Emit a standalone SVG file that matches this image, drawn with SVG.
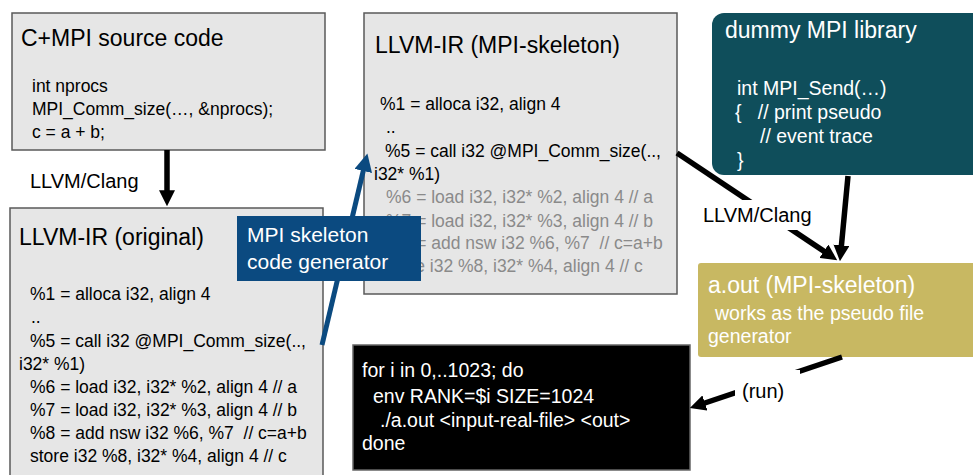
<svg xmlns="http://www.w3.org/2000/svg" width="973" height="475" viewBox="0 0 973 475">
<style>
text{font-family:"Liberation Sans",Arial,sans-serif;white-space:pre}
.box{fill:#e6e6e6;stroke:#595959;stroke-width:1.5}
.title{font-size:23px;fill:#000}
.code{font-size:17.5px;fill:#000}
.gray{fill:#8a8a8a}
.w{fill:#fff}
.lbl{font-size:20px;fill:#000}
.conn{stroke:#000;stroke-width:5.5;fill:none}
</style>
<defs>
<marker id="ah" viewBox="0 0 10 10" refX="3" refY="5" markerWidth="16" markerHeight="16" markerUnits="userSpaceOnUse" orient="auto">
<path d="M0,0 L10,5 L0,10 z" fill="#000"/>
</marker>
<marker id="ahb" viewBox="0 0 10 10" refX="3" refY="5" markerWidth="18" markerHeight="18" markerUnits="userSpaceOnUse" orient="auto">
<path d="M0,0 L10,5 L0,10 z" fill="#0b4a80"/>
</marker>
</defs>

<g id="src">
<rect class="box" x="12" y="13" width="313" height="137"/>
<text class="title" x="21" y="46">C+MPI source code</text>
<text class="code" x="32" y="92">int nprocs</text>
<text class="code" x="32" y="115">MPI_Comm_size(…, &amp;nprocs);</text>
<text class="code" x="32" y="138">c = a + b;</text>
</g>

<g id="ir-orig">
<rect class="box" x="10" y="208" width="313" height="275"/>
<text class="title" x="19" y="245">LLVM-IR (original)</text>
<text class="code" x="30" y="300">%1 = alloca i32, align 4</text>
<text class="code" x="31" y="323">..</text>
<text class="code" x="30" y="347">%5 = call i32 @MPI_Comm_size(..,</text>
<text class="code" x="19" y="370">i32* %1)</text>
<text class="code" x="30" y="393">%6 = load i32, i32* %2, align 4 // a</text>
<text class="code" x="30" y="416">%7 = load i32, i32* %3, align 4 // b</text>
<text class="code" x="30" y="439">%8 = add nsw i32 %6, %7  // c=a+b</text>
<text class="code" x="30" y="462">store i32 %8, i32* %4, align 4 // c</text>
</g>

<g id="ir-skel">
<rect class="box" x="364" y="13" width="313" height="281"/>
<text class="title" x="375" y="53">LLVM-IR (MPI-skeleton)</text>
<text class="code" x="380" y="110">%1 = alloca i32, align 4</text>
<text class="code" x="386" y="133">..</text>
<text class="code" x="385" y="157">%5 = call i32 @MPI_Comm_size(..,</text>
<text class="code" x="374" y="180">i32* %1)</text>
<text class="code gray" x="386" y="203">%6 = load i32, i32* %2, align 4 // a</text>
<text class="code gray" x="386" y="227">%7 = load i32, i32* %3, align 4 // b</text>
<text class="code gray" x="386" y="249">%8 = add nsw i32 %6, %7  // c=a+b</text>
<text class="code gray" x="386" y="272">store i32 %8, i32* %4, align 4 // c</text>
</g>

<g id="dummy">
<rect x="712" y="13" width="280" height="162" rx="12" fill="#0f4e5b"/>
<text class="title w" x="725" y="38">dummy MPI library</text>
<text class="w" style="font-size:19.5px" x="737" y="95">int MPI_Send(…)</text>
<text class="w" style="font-size:19.5px" x="735" y="119">{   // print pseudo</text>
<text class="w" style="font-size:19.5px" x="760" y="143">// event trace</text>
<text class="w" style="font-size:19.5px" x="737" y="167">}</text>
</g>

<g id="aout">
<rect x="698" y="263" width="290" height="94" rx="3" fill="#c8b862"/>
<text class="title w" x="708" y="293">a.out (MPI-skeleton)</text>
<text class="w" style="font-size:19.5px" x="715" y="320">works as the pseudo file</text>
<text class="w" style="font-size:19.5px" x="708" y="343">generator</text>
</g>

<g id="script">
<rect x="353" y="345" width="337" height="125" fill="#000" stroke="#666" stroke-width="1.5"/>
<text class="w" style="font-size:19.5px" x="362" y="377">for i in 0,..1023; do</text>
<text class="w" style="font-size:19.5px" x="373" y="403">env RANK=$i SIZE=1024</text>
<text class="w" style="font-size:19.5px" x="380" y="427">./a.out &lt;input-real-file&gt; &lt;out&gt;</text>
<text class="w" style="font-size:19.5px" x="362" y="450">done</text>
</g>

<g id="connectors">
<line class="conn" x1="167" y1="150" x2="167" y2="195" marker-end="url(#ah)"/>
<text class="lbl" x="30" y="188">LLVM/Clang</text>
<line x1="322" y1="345" x2="364.5" y2="165.7" stroke="#0b4a80" stroke-width="5" marker-end="url(#ahb)"/>
<line class="conn" x1="848" y1="176" x2="841" y2="250" marker-end="url(#ah)"/>
<line class="conn" x1="677" y1="153" x2="827.9" y2="253.9" marker-end="url(#ah)"/>
<rect x="700" y="200" width="118" height="30" fill="#fff"/>
<text class="lbl" x="703" y="222">LLVM/Clang</text>
<line class="conn" x1="842" y1="357" x2="700.4" y2="404.5" marker-end="url(#ah)"/>
<rect x="735" y="370" width="65" height="34" fill="#fff"/>
<text class="lbl" x="742" y="398">(run)</text>
</g>

<g id="generator">
<rect x="237" y="216" width="184" height="65" fill="#0b4a80"/>
<text class="w" style="font-size:21px" x="247" y="242">MPI skeleton</text>
<text class="w" style="font-size:21px" x="247" y="269">code generator</text>
</g>
</svg>
